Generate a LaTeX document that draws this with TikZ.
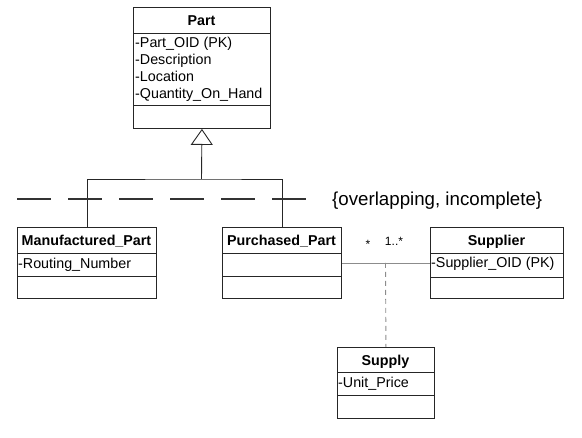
\documentclass[tikz,border=0pt]{standalone}
\usepackage{fontspec}
\setmainfont{Liberation Sans}
\usetikzlibrary{arrows.meta}
\begin{document}
\begin{tikzpicture}[x=1pt,y=-1pt,
  classbox/.style={draw=black!85, line width=0.9pt, rectangle, inner sep=0pt, anchor=north west},
  sep/.style={draw=black!85, line width=0.9pt},
  cname/.style={font=\fontsize{14.3}{17}\selectfont\bfseries, inner sep=0pt, text height=10.5pt, text depth=0pt},
  attr/.style={font=\fontsize{14.3}{17}\selectfont, inner sep=0pt, anchor=base west},
  mult/.style={font=\fontsize{12}{14}\selectfont, inner sep=0pt, anchor=base},
  gen/.style={draw=black!85, line width=0.9pt},
  assoc/.style={draw=black!45, line width=0.9pt},
  assocdash/.style={draw=black!45, line width=0.9pt, dash pattern=on 5pt off 4pt},
  gset/.style={draw=black!80, line width=1.7pt, dash pattern=on 34pt off 17pt}
]
\useasboundingbox (0,0) rectangle (582,438);

% Part
\node[classbox, minimum width=137pt, minimum height=121pt] (part) at (133,7) {};
\draw[sep] ([yshift=-26pt]part.north west) -- ([yshift=-26pt]part.north east);
\draw[sep] ([yshift=-98pt]part.north west) -- ([yshift=-98pt]part.north east);
\node[cname] (partname) at (201.5,20) {Part};
\node[attr] (pa1) at (135,48) {-Part\_OID (PK)};
\node[attr] (pa2) at (135,65) {-Description};
\node[attr] (pa3) at (135,82) {-Location};
\node[attr] (pa4) at (135,99) {-Quantity\_On\_Hand};

% Manufactured_Part
\node[classbox, minimum width=139pt, minimum height=71pt] (manuf) at (17,227) {};
\draw[sep] ([yshift=-26pt]manuf.north west) -- ([yshift=-26pt]manuf.north east);
\draw[sep] ([yshift=-49pt]manuf.north west) -- ([yshift=-49pt]manuf.north east);
\node[cname] (manufname) at (86.5,240) {Manufactured\_Part};
\node[attr] (ma1) at (18,269) {-Routing\_Number};

% Purchased_Part
\node[classbox, minimum width=119pt, minimum height=71pt] (purch) at (222,227) {};
\draw[sep] ([yshift=-26pt]purch.north west) -- ([yshift=-26pt]purch.north east);
\draw[sep] ([yshift=-49pt]purch.north west) -- ([yshift=-49pt]purch.north east);
\node[cname] (purchname) at (281.5,240) {Purchased\_Part};

% Supplier
\node[classbox, minimum width=133pt, minimum height=71pt] (supp) at (430,227) {};
\draw[sep] ([yshift=-26pt]supp.north west) -- ([yshift=-26pt]supp.north east);
\draw[sep] ([yshift=-50pt]supp.north west) -- ([yshift=-50pt]supp.north east);
\node[cname] (suppname) at (496.5,240) {Supplier};
\node[attr] (sa1) at (431,268) {-Supplier\_OID (PK)};

% Supply
\node[classbox, minimum width=97pt, minimum height=71pt] (supply) at (337,347) {};
\draw[sep] ([yshift=-25pt]supply.north west) -- ([yshift=-25pt]supply.north east);
\draw[sep] ([yshift=-48pt]supply.north west) -- ([yshift=-48pt]supply.north east);
\node[cname] (supplyname) at (385.5,360) {Supply};
\node[attr] (ua1) at (338,388) {-Unit\_Price};

% generalization
\coordinate (join) at (201.5,179);
\draw[gen] (manuf.north) |- (join) -| (purch.north);
\draw[gen, -{Triangle[open, length=16pt, width=22pt, line width=0.9pt]}] (join) -- (part.south);

% generalization set
\coordinate (gs1) at (17,199);
\coordinate (gs2) at (307,199);
\draw[gset] (gs1) -- (gs2);
\node[font=\fontsize{18.7}{22}\selectfont, inner sep=0pt, anchor=base west] (gsl) at (332,206) {\{overlapping, incomplete\}};

% association
\coordinate (aL) at ([yshift=-36pt]purch.north east);
\coordinate (aR) at ([yshift=-36pt]supp.north west);
\draw[assoc] (aL) -- (aR);
\coordinate (amid) at (385.5,263);
\draw[assocdash] (amid) -- (supply.north);
\node[mult] (m1) at (368,249) {*};
\node[mult] (m2) at (394,246) {1..*};
\end{tikzpicture}
\end{document}
